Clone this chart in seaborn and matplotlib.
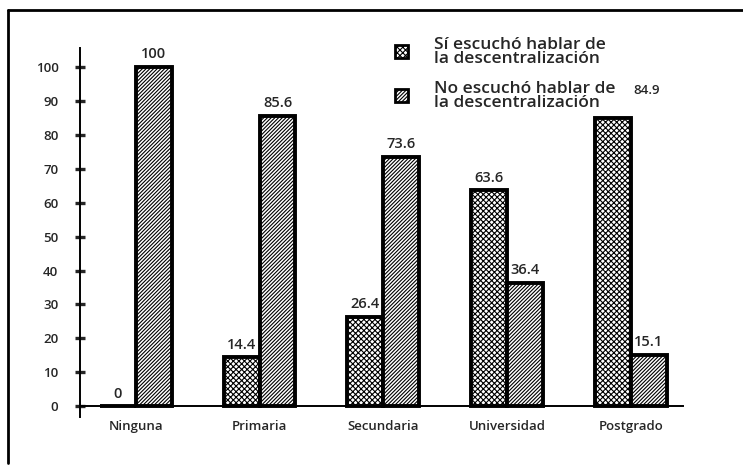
import pandas as pd
import matplotlib.pyplot as plt
import seaborn as sns
from matplotlib.patches import Patch
from matplotlib.lines import Line2D

# Data
niveles = ['Ninguna', 'Primaria', 'Secundaria', 'Universidad', 'Postgrado']
si_escucho = [0, 14.4, 26.4, 63.6, 84.9]
no_escucho = [100, 85.6, 73.6, 36.4, 15.1]
series = ['Sí escuchó hablar de\nla descentralización',
          'No escuchó hablar de\nla descentralización']
y_ticks = [0, 10, 20, 30, 40, 50, 60, 70, 80, 90, 100]

df = pd.DataFrame({
    'nivel': niveles * 2,
    'serie': [series[0]] * 5 + [series[1]] * 5,
    'valor': si_escucho + no_escucho,
})

sns.set_style('white')
plt.rcParams['font.family'] = ['Open Sans', 'DejaVu Sans']
plt.rcParams['font.weight'] = 'semibold'
plt.rcParams['hatch.linewidth'] = 0.8
plt.rcParams['hatch.color'] = 'black'

fig = plt.figure(figsize=(7.43, 4.65), dpi=100)
ax = fig.add_axes([0.1077, 0.1032, 0.8116, 0.7935])

sns.barplot(data=df, x='nivel', y='valor', hue='serie', hue_order=series,
            order=niveles, width=0.58, legend=False, ax=ax,
            palette=['white', 'white'], edgecolor='black', linewidth=2.8,
            saturation=1)

hatches = ['xxxxxx', '/////////']
for cont, h in zip(ax.containers, hatches):
    for bar in cont:
        bar.set_hatch(h)
        bar.set_facecolor('white')
        bar.set_edgecolor('black')

# value labels
ax.bar_label(ax.containers[0], labels=['0', '14.4', '26.4', '63.6', ''],
             padding=4, fontsize=10.5)
ax.bar_label(ax.containers[1], labels=[f'{v:g}' for v in no_escucho],
             padding=4, fontsize=10.5)
last = ax.containers[0][4]
ax.annotate(f'{si_escucho[4]:g}',
            xy=(last.get_x() + last.get_width() / 2, last.get_height()),
            xytext=(24, 15), textcoords='offset points',
            ha='center', va='bottom', fontsize=9.5, zorder=1)

ax.set_xlim(-0.45, 4.42)
ax.set_ylim(-3.2, 105.6)
ax.set_yticks(y_ticks)
ax.set_xlabel('')
ax.set_ylabel('')

for s in ['top', 'right']:
    ax.spines[s].set_visible(False)
ax.spines['bottom'].set_position(('data', 0))
ax.spines['left'].set_linewidth(1.4)
ax.spines['bottom'].set_linewidth(1.4)
ax.spines['left'].set_color('black')
ax.spines['bottom'].set_color('black')

ax.tick_params(axis='y', direction='inout', length=7, width=2.4, pad=12,
               labelsize=9.5, left=True)
ax.tick_params(axis='x', length=0, pad=10, labelsize=9.5)

handles = [Patch(facecolor='white', edgecolor='black', hatch=h, linewidth=2)
           for h in hatches]
leg = fig.legend(handles, series, loc='upper left',
                 bbox_to_anchor=(0.520, 0.94), frameon=False,
                 fontsize=12.5, handlelength=0.75, handleheight=0.75,
                 handletextpad=1.5, labelspacing=0.8, borderpad=0)
for t in leg.get_texts():
    t.set_linespacing(0.85)

# outer frame lines (top and left)
fig.add_artist(Line2D([8 / 743, 1.0], [1 - 10 / 465, 1 - 10 / 465],
                      transform=fig.transFigure, color='black', lw=2))
fig.add_artist(Line2D([8 / 743, 8 / 743], [1 - 10 / 465, 1 - 463 / 465],
                      transform=fig.transFigure, color='black', lw=2))

fig.savefig('out.png', dpi=100)
